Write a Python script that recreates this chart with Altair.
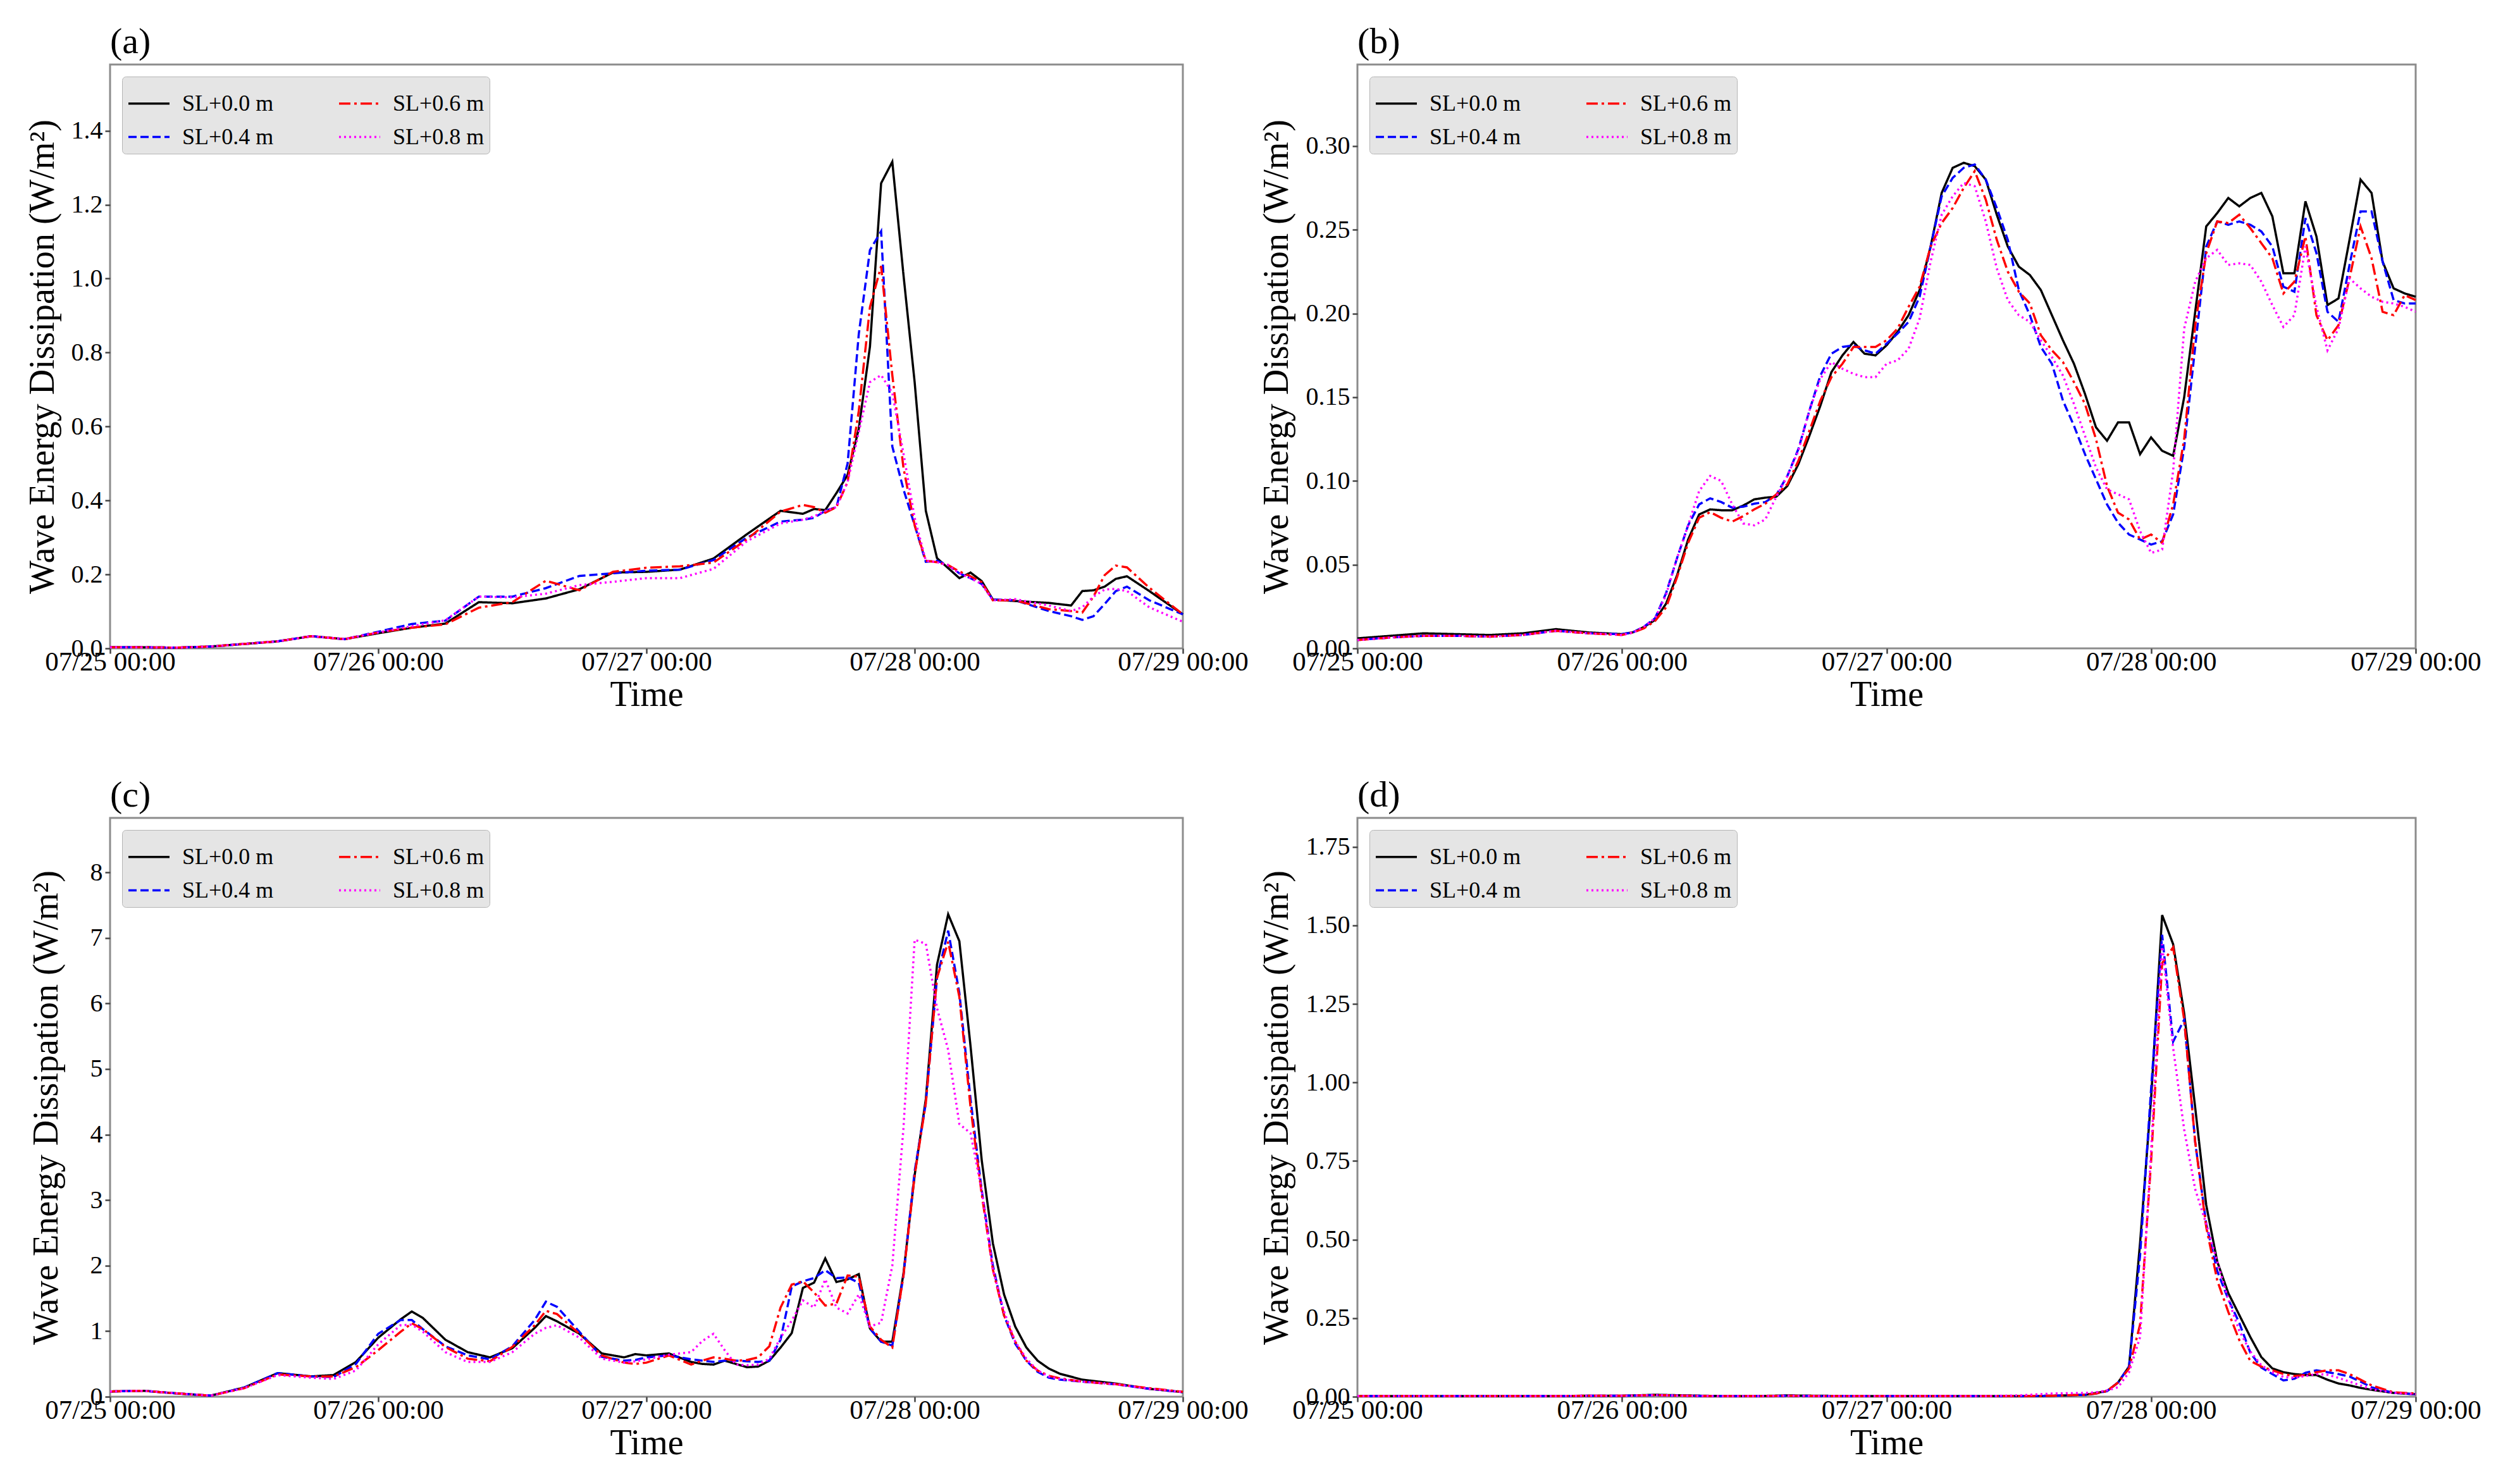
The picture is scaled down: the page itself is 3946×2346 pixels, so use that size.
import altair as alt
import pandas as pd

FONT = "Liberation Serif"
SERIES = ["SL+0.0 m", "SL+0.4 m", "SL+0.6 m", "SL+0.8 m"]
COLORS = {"SL+0.0 m": "#000000", "SL+0.4 m": "#0000ff", "SL+0.6 m": "#ff0000", "SL+0.8 m": "#ff00ff"}
DASHES = {"SL+0.0 m": [1, 0], "SL+0.4 m": [13, 6], "SL+0.6 m": [18, 6, 4, 6], "SL+0.8 m": [3, 5]}
X_TICKS = [0, 24, 48, 72, 96]
X_LABELS = ["07/25 00:00", "07/26 00:00", "07/27 00:00", "07/28 00:00", "07/29 00:00"]
Y_TITLE = "Wave Energy Dissipation (W/m²)"

# ---------------- panel (a) ----------------
A_HOURS = [0, 3, 6, 9, 12, 15, 18, 21, 24, 27, 30, 33, 36, 39, 42, 45, 48, 51, 54, 57, 60,
           62, 63, 64, 65, 66, 67, 68, 69, 70, 71, 72, 73, 74, 75, 76, 77, 78, 79,
           81, 84, 86, 87, 88, 89, 90, 91, 93, 96]
A_SL00 = [0.003, 0.003, 0.002, 0.005, 0.012, 0.019, 0.033, 0.025, 0.041, 0.056, 0.067, 0.125, 0.122, 0.135, 0.160, 0.205, 0.207, 0.213, 0.243, 0.309, 0.372,
          0.364, 0.377, 0.374, 0.420, 0.469, 0.594, 0.816, 1.258, 1.316, 1.010, 0.720, 0.372, 0.244, 0.217, 0.190, 0.205, 0.182, 0.132,
          0.128, 0.123, 0.116, 0.155, 0.157, 0.167, 0.188, 0.195, 0.155, 0.092]
A_SL04 = [0.003, 0.003, 0.002, 0.005, 0.012, 0.019, 0.033, 0.025, 0.045, 0.066, 0.075, 0.140, 0.140, 0.163, 0.196, 0.203, 0.210, 0.213, 0.239, 0.300, 0.343,
          0.348, 0.353, 0.372, 0.382, 0.500, 0.850, 1.077, 1.128, 0.546, 0.430, 0.333, 0.234, 0.237, 0.225, 0.203, 0.190, 0.174, 0.132,
          0.130, 0.101, 0.087, 0.077, 0.087, 0.120, 0.155, 0.167, 0.130, 0.092]
A_SL06 = [0.003, 0.003, 0.002, 0.005, 0.012, 0.019, 0.033, 0.025, 0.043, 0.056, 0.065, 0.110, 0.125, 0.183, 0.157, 0.207, 0.218, 0.222, 0.232, 0.295, 0.370,
          0.388, 0.382, 0.367, 0.382, 0.450, 0.642, 0.923, 1.034, 0.739, 0.488, 0.333, 0.237, 0.233, 0.225, 0.208, 0.195, 0.179, 0.130,
          0.130, 0.106, 0.101, 0.097, 0.140, 0.198, 0.224, 0.219, 0.164, 0.092]
A_SL08 = [0.003, 0.003, 0.002, 0.005, 0.012, 0.019, 0.033, 0.025, 0.043, 0.060, 0.076, 0.140, 0.138, 0.148, 0.171, 0.180, 0.190, 0.190, 0.215, 0.290, 0.338,
          0.348, 0.357, 0.372, 0.382, 0.450, 0.585, 0.720, 0.739, 0.691, 0.527, 0.353, 0.237, 0.233, 0.225, 0.203, 0.190, 0.174, 0.130,
          0.133, 0.116, 0.101, 0.111, 0.140, 0.159, 0.161, 0.155, 0.111, 0.072]

# ---------------- panel (b) ----------------
B_HOURS = [0, 3, 6, 9, 12, 15, 18, 21,
           24, 25, 26, 27, 28, 29, 30, 31, 32, 33, 34, 35, 36, 37, 38, 39, 40, 41, 42, 43, 44, 45, 46, 47, 48,
           49, 50, 51, 52, 53, 54, 55, 56, 57, 58, 59, 60,
           61, 62, 63, 64, 65, 66, 67, 68, 69, 70, 71, 72, 73, 74, 75, 76, 77, 78, 79, 80, 81, 82, 83, 84,
           85, 86, 87, 88, 89, 90, 91, 92, 93, 94, 95, 96]
B_SL00 = [0.0060, 0.0075, 0.0090, 0.0085, 0.0080, 0.0090, 0.0115, 0.0095,
          0.0085, 0.0096, 0.0128, 0.0170, 0.0267, 0.0437, 0.0650, 0.0800, 0.0830, 0.0825, 0.0825, 0.0853, 0.0890, 0.0900, 0.0906, 0.0970, 0.1100, 0.1270, 0.1450, 0.1650, 0.1750, 0.1830, 0.1760, 0.1750, 0.1810,
          0.1890, 0.1990, 0.2140, 0.2400, 0.2720, 0.2870, 0.2900, 0.2880, 0.2800, 0.2590, 0.2400, 0.2280,
          0.223, 0.214, 0.199, 0.184, 0.170, 0.152, 0.132, 0.124, 0.135, 0.135, 0.116, 0.126, 0.118, 0.115, 0.150, 0.201, 0.252, 0.260, 0.269, 0.264, 0.269, 0.272, 0.258, 0.224,
          0.224, 0.267, 0.246, 0.205, 0.209, 0.244, 0.280, 0.272, 0.231, 0.215, 0.212, 0.210]
B_SL04 = [0.0050, 0.0065, 0.0075, 0.0075, 0.0070, 0.0080, 0.0105, 0.0090,
          0.0085, 0.0096, 0.0130, 0.0180, 0.0330, 0.0540, 0.0735, 0.0860, 0.0896, 0.0874, 0.0840, 0.0846, 0.0864, 0.0874, 0.0917, 0.1030, 0.1190, 0.1420, 0.1630, 0.1760, 0.1800, 0.1810, 0.1780, 0.1760, 0.1820,
          0.1880, 0.1950, 0.2100, 0.2400, 0.2700, 0.2810, 0.2870, 0.2890, 0.2800, 0.2630, 0.2440, 0.2140,
          0.199, 0.180, 0.170, 0.148, 0.133, 0.116, 0.101, 0.086, 0.075, 0.068, 0.065, 0.062, 0.064, 0.080, 0.120, 0.180, 0.240, 0.255, 0.253, 0.255, 0.253, 0.249, 0.240, 0.216,
          0.213, 0.257, 0.236, 0.201, 0.195, 0.229, 0.261, 0.261, 0.231, 0.208, 0.206, 0.206]
B_SL06 = [0.0050, 0.0065, 0.0075, 0.0075, 0.0070, 0.0080, 0.0105, 0.0090,
          0.0080, 0.0095, 0.0120, 0.0164, 0.0245, 0.0426, 0.0630, 0.0780, 0.0814, 0.0780, 0.0757, 0.0790, 0.0830, 0.0864, 0.0920, 0.0980, 0.1120, 0.1300, 0.1480, 0.1620, 0.1700, 0.1800, 0.1800, 0.1800, 0.1840,
          0.1910, 0.2040, 0.2160, 0.2400, 0.2540, 0.2630, 0.2750, 0.2850, 0.2680, 0.2440, 0.2250, 0.2130,
          0.206, 0.187, 0.178, 0.171, 0.159, 0.146, 0.125, 0.097, 0.081, 0.077, 0.065, 0.068, 0.063, 0.086, 0.125, 0.193, 0.236, 0.255, 0.254, 0.259, 0.251, 0.242, 0.233, 0.212,
          0.219, 0.246, 0.199, 0.184, 0.193, 0.221, 0.252, 0.233, 0.201, 0.199, 0.211, 0.208]
B_SL08 = [0.0050, 0.0065, 0.0075, 0.0075, 0.0070, 0.0080, 0.0105, 0.0090,
          0.0080, 0.0095, 0.0130, 0.0180, 0.0320, 0.0540, 0.0735, 0.0940, 0.1030, 0.1000, 0.0860, 0.0746, 0.0735, 0.0770, 0.0906, 0.1030, 0.1180, 0.1420, 0.1610, 0.1710, 0.1670, 0.1640, 0.1620, 0.1620, 0.1700,
          0.1720, 0.1790, 0.1970, 0.2310, 0.2590, 0.2700, 0.2780, 0.2760, 0.2550, 0.2270, 0.2080, 0.1990,
          0.195, 0.184, 0.174, 0.163, 0.146, 0.127, 0.108, 0.095, 0.092, 0.089, 0.070, 0.057, 0.059, 0.106, 0.191, 0.219, 0.233, 0.238, 0.229, 0.230, 0.229, 0.219, 0.205, 0.192,
          0.199, 0.240, 0.204, 0.178, 0.191, 0.221, 0.215, 0.210, 0.207, 0.206, 0.204, 0.201]

# ---------------- panel (c) ----------------
C_HOURS = [0, 3, 6, 9, 12, 15, 18, 20, 22, 24, 26, 27, 28, 30, 32, 34, 36, 38, 39, 40, 42, 44, 46, 47, 48,
           50, 52, 53, 54, 55, 56, 57, 58, 59,
           60, 61, 62, 63, 64, 65, 66, 67, 68, 69, 70, 71, 72, 73, 74, 75, 76, 77, 78, 79, 80, 81, 82, 83, 84, 85,
           87, 90, 93, 96]
C_SL00 = [0.08, 0.09, 0.05, 0.016, 0.14, 0.36, 0.31, 0.33, 0.53, 0.90, 1.18, 1.30, 1.20, 0.87, 0.68, 0.60, 0.74, 1.05, 1.23, 1.15, 0.96, 0.66, 0.60, 0.65, 0.63,
          0.66, 0.53, 0.50, 0.49, 0.55, 0.50, 0.45, 0.46, 0.55,
          0.75, 0.97, 1.66, 1.74, 2.11, 1.75, 1.79, 1.87, 1.04, 0.84, 0.84, 1.88, 3.38, 4.54, 6.59, 7.36, 6.95, 5.35, 3.61, 2.34, 1.56, 1.07, 0.75, 0.55, 0.43, 0.35,
          0.26, 0.20, 0.12, 0.07]
C_SL04 = [0.08, 0.09, 0.05, 0.016, 0.14, 0.36, 0.31, 0.30, 0.50, 0.96, 1.17, 1.17, 1.03, 0.77, 0.63, 0.57, 0.77, 1.17, 1.45, 1.37, 0.99, 0.61, 0.55, 0.56, 0.60,
          0.63, 0.57, 0.55, 0.53, 0.55, 0.55, 0.54, 0.53, 0.55,
          0.87, 1.68, 1.76, 1.81, 1.93, 1.81, 1.82, 1.74, 1.04, 0.84, 0.78, 1.85, 3.44, 4.48, 6.39, 7.11, 6.16, 4.54, 3.15, 2.00, 1.24, 0.81, 0.55, 0.38, 0.29, 0.26,
          0.23, 0.19, 0.12, 0.07]
C_SL06 = [0.08, 0.09, 0.05, 0.016, 0.13, 0.34, 0.31, 0.31, 0.45, 0.71, 0.99, 1.12, 1.03, 0.76, 0.58, 0.54, 0.76, 1.09, 1.31, 1.26, 0.96, 0.63, 0.52, 0.50, 0.52,
          0.63, 0.49, 0.55, 0.60, 0.58, 0.55, 0.56, 0.60, 0.77,
          1.36, 1.71, 1.76, 1.59, 1.39, 1.42, 1.85, 1.83, 1.07, 0.87, 0.75, 1.85, 3.38, 4.48, 6.39, 6.94, 6.10, 4.42, 3.09, 1.94, 1.24, 0.84, 0.55, 0.40, 0.32, 0.28,
          0.23, 0.19, 0.13, 0.075]
C_SL08 = [0.08, 0.09, 0.05, 0.016, 0.13, 0.33, 0.29, 0.27, 0.40, 0.80, 1.09, 1.10, 0.99, 0.68, 0.53, 0.53, 0.68, 0.96, 1.05, 1.09, 0.90, 0.58, 0.52, 0.54, 0.57,
          0.64, 0.68, 0.85, 0.96, 0.71, 0.49, 0.48, 0.49, 0.58,
          0.90, 1.16, 1.47, 1.36, 1.79, 1.36, 1.27, 1.56, 1.07, 1.13, 2.00, 4.10, 6.97, 6.91, 5.93, 5.29, 4.16, 4.02, 3.15, 1.94, 1.30, 0.84, 0.58, 0.40, 0.31, 0.27,
          0.23, 0.19, 0.12, 0.07]

# ---------------- panel (d) ----------------
D_HOURS = [0, 3, 6, 9, 12, 15, 18, 21, 24, 27, 30, 33, 36, 39, 42, 45, 48, 51, 54, 57, 60, 63, 66,
           67, 68, 69, 70, 71, 72, 73, 74, 75, 76, 77, 78, 79, 80, 81, 82, 83, 84, 85, 86, 87, 88, 89, 90, 91, 92,
           94, 96]
D_SL00 = [0.002, 0.002, 0.002, 0.002, 0.002, 0.002, 0.002, 0.003, 0.003, 0.006, 0.004, 0.002, 0.002, 0.004, 0.003, 0.002, 0.002, 0.002, 0.002, 0.002, 0.002, 0.003, 0.006,
          0.012, 0.018, 0.045, 0.096, 0.490, 0.950, 1.533, 1.440, 1.220, 0.920, 0.610, 0.430, 0.330, 0.260, 0.190, 0.126, 0.090, 0.078, 0.072, 0.069, 0.069, 0.054, 0.042, 0.036, 0.028, 0.022,
          0.012, 0.008]
D_SL04 = [0.002, 0.002, 0.002, 0.002, 0.002, 0.002, 0.002, 0.003, 0.003, 0.005, 0.003, 0.002, 0.002, 0.003, 0.002, 0.002, 0.002, 0.002, 0.002, 0.002, 0.002, 0.003, 0.006,
          0.010, 0.018, 0.045, 0.096, 0.450, 0.980, 1.470, 1.130, 1.200, 0.810, 0.550, 0.400, 0.310, 0.235, 0.140, 0.093, 0.072, 0.052, 0.057, 0.076, 0.084, 0.078, 0.072, 0.064, 0.048, 0.030,
          0.012, 0.008]
D_SL06 = [0.002, 0.002, 0.002, 0.002, 0.002, 0.002, 0.002, 0.003, 0.003, 0.005, 0.003, 0.002, 0.002, 0.003, 0.002, 0.002, 0.002, 0.002, 0.002, 0.002, 0.002, 0.003, 0.006,
          0.010, 0.018, 0.045, 0.090, 0.230, 0.750, 1.380, 1.430, 1.200, 0.810, 0.540, 0.370, 0.270, 0.180, 0.114, 0.096, 0.084, 0.072, 0.066, 0.069, 0.078, 0.084, 0.084, 0.072, 0.054, 0.036,
          0.014, 0.010]
D_SL08 = [0.002, 0.002, 0.002, 0.002, 0.002, 0.002, 0.002, 0.003, 0.003, 0.005, 0.003, 0.002, 0.002, 0.003, 0.002, 0.002, 0.002, 0.002, 0.002, 0.002, 0.004, 0.010, 0.012,
          0.014, 0.020, 0.030, 0.078, 0.190, 0.780, 1.440, 1.110, 0.850, 0.660, 0.550, 0.430, 0.310, 0.210, 0.144, 0.100, 0.078, 0.063, 0.060, 0.066, 0.072, 0.070, 0.060, 0.048, 0.036, 0.024,
          0.012, 0.008]

A_YTICKS = [0.0, 0.2, 0.4, 0.6, 0.8, 1.0, 1.2, 1.4]
B_YTICKS = [0.00, 0.05, 0.10, 0.15, 0.20, 0.25, 0.30]
C_YTICKS = [0, 1, 2, 3, 4, 5, 6, 7, 8]
D_YTICKS = [0.00, 0.25, 0.50, 0.75, 1.00, 1.25, 1.50, 1.75]

LABEL_EXPR = " : ".join(f"datum.value == {v} ? '{l}'" for v, l in zip(X_TICKS, X_LABELS)) + " : ''"

LEGEND = alt.Legend(
    title=None, orient="top-left", offset=19, columns=2,
    symbolType="stroke", symbolSize=4225, symbolStrokeWidth=3.4,
    labelFont=FONT, labelFontSize=36, labelColor="black", labelLimit=400, labelOffset=18,
    columnPadding=96, rowPadding=0, padding=8,
    fillColor="#e5e5e5", strokeColor="#b5b5b5", cornerRadius=6,
)


def panel(letter, hours, values, ymax, yticks, yfmt, width, height, extent, tpad):
    rows = []
    for s, vals in zip(SERIES, values):
        for h, v in zip(hours, vals):
            rows.append({"hour": h, "value": v, "series": s})
    df = pd.DataFrame(rows)
    x = alt.X("hour:Q", scale=alt.Scale(domain=[0, 96], nice=False, zero=False),
              axis=alt.Axis(values=X_TICKS, labelExpr=LABEL_EXPR, title="Time", labelFlush=False,
                            labelOverlap=False, labelLimit=400, labelFontSize=43,
                            labelPadding=-8, titlePadding=3))
    y = alt.Y("value:Q", scale=alt.Scale(domain=[0, ymax], nice=False, zero=True),
              axis=alt.Axis(values=yticks, format=yfmt, title=Y_TITLE, minExtent=extent,
                            maxExtent=extent, titlePadding=tpad, labelPadding=4, labelFontSize=40))
    color = alt.Color("series:N", scale=alt.Scale(domain=SERIES, range=[COLORS[s] for s in SERIES]),
                      legend=LEGEND)
    dash = alt.StrokeDash("series:N", scale=alt.Scale(domain=SERIES, range=[DASHES[s] for s in SERIES]),
                          legend=LEGEND)
    layers = []
    for s in SERIES:
        layers.append(
            alt.Chart(df).transform_filter(alt.datum.series == s)
            .mark_line(strokeWidth=3.5)
            .encode(x=x, y=y, color=color, strokeDash=dash)
        )
    return alt.layer(*layers).properties(
        width=width, height=height,
        title=alt.TitleParams(letter, anchor="start", frame="group"),
    )


pa = panel("(a)", A_HOURS, [A_SL00, A_SL04, A_SL06, A_SL08], 1.579, A_YTICKS, ".1f", 1696, 923, 70, 8)
pb = panel("(b)", B_HOURS, [B_SL00, B_SL04, B_SL06, B_SL08], 0.3487, B_YTICKS, ".2f", 1673, 923, 88, 11)
pc = panel("(c)", C_HOURS, [C_SL00, C_SL04, C_SL06, C_SL08], 8.83, C_YTICKS, "d", 1696, 915, 50, 22)
pd_ = panel("(d)", D_HOURS, [D_SL00, D_SL04, D_SL06, D_SL08], 1.842, D_YTICKS, ".2f", 1673, 915, 88, 11)

chart = (
    alt.concat(pa, pb, pc, pd_, columns=2, bounds="flush", spacing={"row": 268, "column": 276})
    .resolve_scale(color="independent", strokeDash="independent")
    .properties(padding={"left": 29, "top": 28, "right": 5, "bottom": 5}, background="white")
    .configure_axis(labelFont=FONT, titleFont=FONT, labelFontSize=40, titleFontSize=56,
                    titleFontWeight="normal", labelColor="black", titleColor="black",
                    tickColor="#444444", tickWidth=2.5, tickSize=8, domain=False, grid=False)
    .configure_view(stroke="#8c8c8c", strokeWidth=3)
    .configure_title(font=FONT, fontSize=58, fontWeight="normal", color="black",
                     anchor="start", baseline="bottom", offset=6)
)

chart.save("out.html", embed_options={"renderer": "svg", "actions": False})
